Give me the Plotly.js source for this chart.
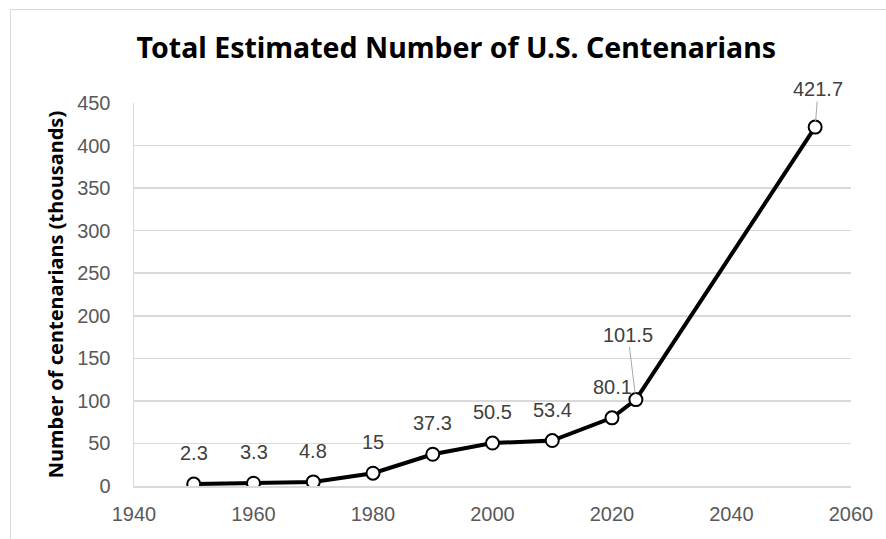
<!DOCTYPE html>
<html><head><meta charset="utf-8">
<script src="https://cdn.plot.ly/plotly-3.0.1.min.js"></script>
<style>
html,body{margin:0;padding:0;background:#fff;overflow:hidden;}
#chart{position:absolute;left:0;top:0;width:886px;height:539px;}
#frame{position:absolute;left:10px;top:9px;width:1000px;height:1000px;border:1px solid #d9d9d9;pointer-events:none;}
</style></head>
<body>
<div id="chart"></div>
<div id="frame"></div>
<script>
const years = [1950, 1960, 1970, 1980, 1990, 2000, 2010, 2020, 2024, 2054];
const centenarians = [2.3, 3.3, 4.8, 15, 37.3, 50.5, 53.4, 80.1, 101.5, 421.7];
const labels = ['2.3','3.3','4.8','15','37.3','50.5','53.4','80.1','101.5','421.7'];
const xTicks = [1940, 1960, 1980, 2000, 2020, 2040, 2060];
const yTicks = [0, 50, 100, 150, 200, 250, 300, 350, 400, 450];

const leader = {8: {ax: -8, ay: -65}, 9: {ax: 3, ay: -38}};
const annotations = years.map((x, i) => {
  const base = {x: x, y: centenarians[i], xref: 'x', yref: 'y', text: labels[i],
    font: {family: 'Liberation Sans, Arial, sans-serif', size: 20, color: '#404040'}};
  if (leader[i]) {
    return Object.assign(base, {showarrow: true, arrowhead: 0, arrowwidth: 1, arrowcolor: '#a6a6a6',
      ax: leader[i].ax, ay: leader[i].ay, standoff: 6});
  }
  return Object.assign(base, {showarrow: false, yshift: 31});
});

const trace = {
  x: years, y: centenarians, type: 'scatter', mode: 'lines+markers',
  line: {color: '#000000', width: 4},
  marker: {size: 13, color: '#ffffff', line: {color: '#000000', width: 2}},
  hoverinfo: 'skip'
};

const tickFont = {family: 'Liberation Sans, Arial, sans-serif', size: 20, color: '#595959'};
const layout = {
  width: 886, height: 539,
  margin: {l: 134, r: 35, t: 103, b: 53},
  paper_bgcolor: '#ffffff', plot_bgcolor: '#ffffff',
  showlegend: false,
  title: {text: '<b>Total Estimated Number of U.S. Centenarians</b>',
    font: {family: 'Noto Sans, Open Sans, sans-serif', size: 28.5, color: '#000000'},
    x: 0.515, xanchor: 'center', y: 0.91, yanchor: 'middle'},
  xaxis: {range: [1940, 2060], tickvals: xTicks, ticktext: xTicks.map(String),
    showgrid: false, zeroline: false, showline: true, linecolor: '#d9d9d9', linewidth: 1.5,
    ticks: '', ticklabelstandoff: 9, tickfont: tickFont},
  yaxis: {range: [0, 450], tickvals: yTicks, ticktext: yTicks.map(String),
    showgrid: true, gridcolor: '#d9d9d9', gridwidth: 1.5, zeroline: false,
    showline: true, linecolor: '#d9d9d9', linewidth: 1.5, ticks: '',
    ticklabelstandoff: 18, tickfont: tickFont,
    title: {text: '<b>Number of centenarians (thousands)</b>', standoff: 8,
      font: {family: 'Noto Sans, Open Sans, sans-serif', size: 20, color: '#000000'}}},
  annotations: annotations
};

Plotly.newPlot('chart', [trace], layout, {displayModeBar: false, staticPlot: true});
</script>
</body></html>
